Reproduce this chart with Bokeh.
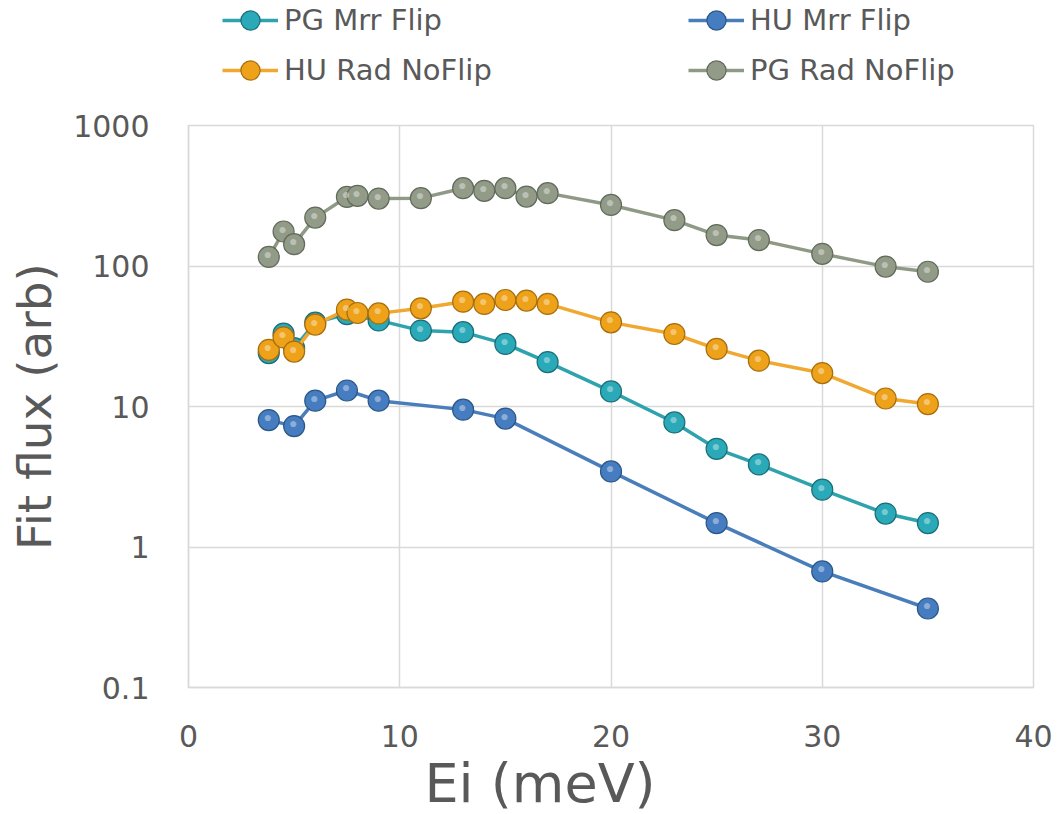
from bokeh.plotting import figure
from bokeh.layouts import column
from bokeh.models import Range1d, FixedTicker, Legend, LegendItem, Title
from bokeh.core.properties import value
from bokeh.embed import file_html
from bokeh.resources import INLINE

# ---- data ----
x_pg_mrr = [3.8, 4.5, 5, 6, 7.5, 9, 11, 13, 15, 17, 20, 23, 25, 27, 30, 33, 35]
y_pg_mrr = [24, 33, 26, 39.5, 45.5, 41, 34.7, 33.8, 27.9, 20.7, 12.8, 7.7, 5.0, 3.87, 2.56, 1.73, 1.48]

x_hu_mrr = [3.8, 5, 6, 7.5, 9, 13, 15, 20, 25, 30, 35]
y_hu_mrr = [8.0, 7.25, 11.0, 13.0, 11.0, 9.5, 8.2, 3.45, 1.48, 0.67, 0.365]

x_hu_rad = [3.8, 4.5, 5, 6, 7.5, 8, 9, 11, 13, 14, 15, 16, 17, 20, 23, 25, 27, 30, 33, 35]
y_hu_rad = [25.3, 31, 24.6, 38.3, 49, 46.3, 46, 50, 55.7, 53.7, 57.3, 56.7, 53.7, 39.7, 32.8, 25.7, 21.2, 17.3, 11.4, 10.4]

x_pg_rad = [3.8, 4.5, 5, 6, 7.5, 8, 9, 11, 13, 14, 15, 16, 17, 20, 23, 25, 27, 30, 33, 35]
y_pg_rad = [116, 176, 143, 221, 310, 316, 302, 304, 358, 343, 358, 312, 330, 272, 212, 166, 153, 122, 99, 91]

series_names = ["PG Mrr Flip", "HU Mrr Flip", "HU Rad NoFlip", "PG Rad NoFlip"]
x_ticks = [0, 10, 20, 30, 40]
y_ticks = [0.1, 1, 10, 100, 1000]
y_tick_labels = ["0.1", "1", "10", "100", "1000"]
x_title = "Ei (meV)"
y_title = "Fit flux (arb)"

FONT = "DejaVu Sans"
TXT = "#595959"
GRID = "#D9D9D9"

styles = [
    ("#2FA3AD", "#2AAAB8", "#1A6E78"),
    ("#4A7EBB", "#467DC0", "#2A5688"),
    ("#F0A830", "#EEA21A", "#A86E0C"),
    ("#8E9A86", "#929B88", "#626B5B"),
]
series_data = [(x_pg_mrr, y_pg_mrr), (x_hu_mrr, y_hu_mrr),
               (x_hu_rad, y_hu_rad), (x_pg_rad, y_pg_rad)]

# ---------------- main chart ----------------
p = figure(width=1058, height=714, y_axis_type="log",
           x_range=Range1d(0, 40), y_range=Range1d(0.1, 1000),
           output_backend="svg", toolbar_location=None,
           min_border_left=188, min_border_right=25,
           min_border_top=25, min_border_bottom=126)

p.outline_line_color = GRID
p.outline_line_width = 1.5
p.background_fill_color = "white"
p.border_fill_color = "white"

for ax in (p.xaxis[0], p.yaxis[0]):
    ax.axis_line_color = GRID
    ax.axis_line_width = 1.5
    ax.major_tick_line_color = None
    ax.minor_tick_line_color = None
    ax.major_label_text_font = FONT
    ax.major_label_text_color = TXT
    ax.major_label_text_font_size = "30px"
    ax.axis_label_text_font = FONT
    ax.axis_label_text_color = TXT
    ax.axis_label_text_font_style = "normal"
    ax.axis_label_text_font_size = "47px"

p.xaxis.ticker = FixedTicker(ticks=x_ticks)
p.yaxis.ticker = FixedTicker(ticks=y_ticks)
p.yaxis.major_label_overrides = {t: l for t, l in zip(y_ticks, y_tick_labels)}
p.yaxis.axis_label = y_title
p.xaxis.major_label_standoff = 31
p.yaxis.major_label_standoff = 33
p.yaxis.axis_label_standoff = 8

xt = Title(text=x_title, align="left", offset=236, standoff=0,
           text_font=FONT, text_font_size="54px", text_color=TXT,
           text_font_style="normal")
p.add_layout(xt, "below")

p.xgrid.grid_line_color = GRID
p.ygrid.grid_line_color = GRID
p.xgrid.grid_line_width = 1.5
p.ygrid.grid_line_width = 1.5
p.ygrid.minor_grid_line_color = None

for (xs, ys), (lc, fc, dc) in zip(series_data, styles):
    p.line(xs, ys, line_color=lc, line_width=3.5)
    p.scatter(xs, ys, size=21, marker="circle", fill_color=fc,
              line_color=dc, line_width=1.2)
    p.text(xs, ys, text=value("\u25CF"), text_font_size="14px",
           text_color="white", text_alpha=0.4, x_offset=-1, y_offset=-3,
           text_align="center", text_baseline="middle")

# ---------------- legend strip ----------------
# ranges chosen so the series' own points fall outside this strip's view;
# only the legend swatches show.
lg = figure(width=1058, height=100, x_range=Range1d(0, 1), y_range=Range1d(-2, -1),
            output_backend="svg", toolbar_location=None, min_border=0)
lg.axis.visible = False
lg.grid.visible = False
lg.outline_line_color = None
lg.border_fill_color = "white"
lg.background_fill_color = "white"

renderers = {}
for name, (xs, ys), (lc, fc, dc) in zip(series_names, series_data, styles):
    lr = lg.line(xs, ys, line_color=lc, line_width=3.5)
    sr = lg.scatter(xs, ys, size=21, marker="circle", fill_color=fc,
                    line_color=dc, line_width=1.2)
    renderers[name] = [lr, sr]

# column-wise fill: col1 = PG Mrr Flip, HU Rad NoFlip ; col2 = HU Mrr Flip, PG Rad NoFlip
legend_order = ["PG Mrr Flip", "HU Rad NoFlip", "HU Mrr Flip", "PG Rad NoFlip"]
items = [LegendItem(label=n, renderers=renderers[n]) for n in legend_order]

legend = Legend(items=items, ncols=2, location=(34, 6),
                glyph_width=56, glyph_height=48, label_standoff=6,
                label_width=402, spacing=2, padding=0, margin=0,
                border_line_color=None, background_fill_alpha=0,
                label_text_font=FONT, label_text_color=TXT,
                label_text_font_size="29px")
lg.add_layout(legend, "center")

layout = column(lg, p, spacing=0)
open("out.html", "w").write(file_html(layout, INLINE))
